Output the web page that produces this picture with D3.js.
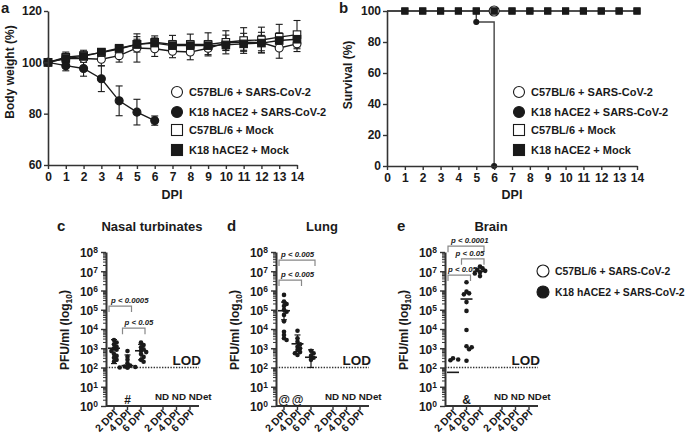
<!DOCTYPE html>
<html><head><meta charset="utf-8">
<script src="https://cdn.jsdelivr.net/npm/d3@7"></script>
<style>body{margin:0;background:#fff}</style>
</head><body><svg id="c" width="685" height="442"></svg>
<script>
// ---------------- DATA ----------------
// Panel a: body weight (%)
const dpi = [0,1,2,3,4,5,6,7,8,9,10,11,12,13,14];
const dpiK18 = [0,1,2,3,4,5,6];
const bwC57Virus   = [100,101.6,101.5,101.2,102.6,105.6,105.3,104.3,104,105.5,107.6,107.8,107.7,105.6,107.2];
const bwC57VirusSD = [0,1.5,1.5,2.5,2.5,5.5,3,2.5,3,2.5,3,3.5,4,4,3];
const bwK18Virus   = [100,98.7,97.6,93.6,85,80.6,77.3];
const bwK18VirusSD = [0,2,3,5,5.8,5,1.8];
const bwC57Mock    = [100,102,102.7,103.8,105.2,107,107.8,107,107,107,107.8,108.5,108.7,109.8,110.8];
const bwC57MockSD  = [0,2,2,1.5,1.5,3,2.5,3.5,4,4.5,4.5,5,5,5,5.5];
const bwK18Mock    = [100,101.5,102.3,104,105.5,107,107.5,106.5,106.5,106.5,106.8,107.2,107.5,108.5,109];
const bwK18MockSD  = [0,1.5,1.5,1,1,2,2,2,2,2,2,2.5,3,3,3];
const bwTicks = [60,80,100,120];

// Panel b: survival (%)
const survC57Virus = [100,100,100,100,100,100,100];
const survK18Virus = [100,100,100,100,100,92.9,0];
const survC57Mock  = [100,100,100,100,100,100,100,100,100,100,100,100,100,100,100];
const survK18Mock  = [100,100,100,100,100,100,100,100,100,100,100,100,100,100,100];
const survTicks = [0,20,40,60,80,100];

const legendNames = ["C57BL/6 + SARS-CoV-2","K18 hACE2 + SARS-CoV-2","C57BL/6 + Mock","K18 hACE2 + Mock"];

// Panels c-e: PFU/ml
const dpiCats = ["2 DPI","4 DPI","6 DPI"];
const logTicks = [1,1e1,1e2,1e3,1e4,1e5,1e6,1e7,1e8];
const LOD = 100;
const nasal2 = [2700,2000,1600,1200,1000,830,710,500,400,320,250,200];
const nasal4 = [720,360,250,165,125,112,107,100,100,100];
const nasal6 = [2000,1480,1120,890,740,630,500,355,250,200];
const nasalMean = [1000,125,740];
const nasalLo = [160,100,250];
const nasalHi = [2800,450,1600];
const lung2 = [590000,263000,200000,158000,100000,79000,54000,25000,7200,4900,3300,2700];
const lung4 = [8100,3300,2200,1600,1200,1000,810,630,550,450];
const lung6 = [740,550,400,320,250];
const lungMean = [89000,1700,340];
const lungLo = [30000,660,100];
const lungHi = [250000,4900,830];
const brain2 = [300,260,240];
const brain4 = [2.7e6,8.7e5,7.1e5,6.3e5,2.5e5,8.7e4,8.9e3,1260,1120,890,224];
const brain6 = [1.74e7,1.41e7,1.2e7,1.05e7,8.9e6,7.6e6,5.6e6];
const brainMean = [56,3.6e5,1.0e7];
const bracketsNasal = [{from:"2 DPI",to:"4 DPI",level:1.55e5,label:"p < 0.0005"},{from:"4 DPI",to:"6 DPI",level:1.1e4,label:"p < 0.05"}];
const bracketsLung  = [{from:"2 DPI",to:"6 DPI",level:3.8e7,label:"p < 0.005"},{from:"2 DPI",to:"4 DPI",level:3.5e6,label:"p < 0.005"}];
const bracketsBrain = [{from:"2 DPI",to:"6 DPI",level:2.0e8,label:"p < 0.0001"},{from:"4 DPI",to:"6 DPI",level:4.4e7,label:"p < 0.05"},{from:"2 DPI",to:"4 DPI",level:6.3e6,label:"p < 0.05"}];

// ---------------- DRAWING ----------------
const FONT = '"Liberation Sans", Arial, Helvetica, sans-serif';
const INK = "#1a1a1a", AX = "#333";
const svg = d3.select("#c");

function txt(x, y, s, size, opts = {}) {
  const t = svg.append("text").attr("x", x).attr("y", y).text(s)
    .attr("font-family", FONT).attr("font-weight", "bold").attr("font-size", size).attr("fill", INK);
  if (opts.anchor) t.attr("text-anchor", opts.anchor);
  if (opts.rotate) t.attr("transform", `rotate(${opts.rotate},${x},${y})`);
  if (opts.italic) t.attr("font-style", "italic");
  return t;
}
function styleAxis(g, fs) {
  g.attr("font-family", FONT).attr("font-size", fs).attr("font-weight", "bold");
  g.select(".domain").attr("stroke", AX).attr("stroke-width", 1.6);
  g.selectAll(".tick line").attr("stroke", AX).attr("stroke-width", 1.4);
  g.selectAll(".tick text").attr("fill", INK);
}
function marker(g, shape, fill, x, y, s) {
  if (shape === "circle") g.append("circle").attr("cx", x).attr("cy", y).attr("r", s / 2)
    .attr("fill", fill).attr("stroke", INK).attr("stroke-width", 1.1);
  else g.append("rect").attr("x", x - s / 2).attr("y", y - s / 2).attr("width", s).attr("height", s)
    .attr("fill", fill).attr("stroke", INK).attr("stroke-width", 1.1);
}
function legend(x, y0, gaps, items, size, fs) {
  const g = svg.append("g");
  let y = y0;
  items.forEach((it, i) => {
    marker(g, it.shape, it.fill, x, y, size);
    txt(x + 12, y + fs * 0.36, it.name, fs);
    y += gaps[i] || 0;
  });
}

// ---- Panel a ----
(function () {
  const x = d3.scaleLinear().domain([0, 14]).range([48, 297]);
  const y = d3.scaleLinear().domain([60, 120]).range([165, 11]);
  const series = [
    {name: legendNames[0], xs: dpi, ys: bwC57Virus, es: bwC57VirusSD, shape: "circle", fill: "#fff"},
    {name: legendNames[1], xs: dpiK18, ys: bwK18Virus, es: bwK18VirusSD, shape: "circle", fill: INK},
    {name: legendNames[2], xs: dpi, ys: bwC57Mock, es: bwC57MockSD, shape: "square", fill: "#fff"},
    {name: legendNames[3], xs: dpi, ys: bwK18Mock, es: bwK18MockSD, shape: "square", fill: INK}
  ];
  const g = svg.append("g");
  series.forEach(s => {
    s.xs.forEach((d, i) => {
      if (!s.es[i]) return;
      const cx = x(d), y1 = y(s.ys[i] + s.es[i]), y2 = y(s.ys[i] - s.es[i]);
      g.append("line").attr("x1", cx).attr("x2", cx).attr("y1", y1).attr("y2", y2).attr("stroke", INK).attr("stroke-width", 1.1);
      [y1, y2].forEach(yy => g.append("line").attr("x1", cx - 3.5).attr("x2", cx + 3.5).attr("y1", yy).attr("y2", yy).attr("stroke", INK).attr("stroke-width", 1.1));
    });
  });
  const line = d3.line().x(d => x(d[0])).y(d => y(d[1]));
  series.forEach(s => {
    g.append("path").attr("d", line(s.xs.map((d, i) => [d, s.ys[i]]))).attr("fill", "none").attr("stroke", INK).attr("stroke-width", 1.4);
  });
  series.forEach(s => s.xs.forEach((d, i) => marker(g, s.shape, s.fill, x(d), y(s.ys[i]), s.shape === "circle" ? 8 : 7.5)));
  const gx = svg.append("g").attr("transform", "translate(0,165)").call(d3.axisBottom(x).tickValues(dpi).tickSize(4).tickSizeOuter(0).tickPadding(3));
  styleAxis(gx, 12);
  const gy = svg.append("g").attr("transform", "translate(48,0)").call(d3.axisLeft(y).tickValues(bwTicks).tickSize(4).tickSizeOuter(0).tickPadding(2));
  styleAxis(gy, 12);
  txt(172, 199, "DPI", 12.5, {anchor: "middle"});
  txt(13.5, 72, "Body weight (%)", 12, {anchor: "middle", rotate: -90});
  txt(1, 13, "a", 15);
  legend(177, 92, [20, 18, 20], series, 11, 11);
})();

// ---- Panel b ----
(function () {
  const x = d3.scaleLinear().domain([0, 14]).range([387, 637]);
  const y = d3.scaleLinear().domain([0, 100]).range([166, 11]);
  const series = [
    {name: legendNames[0], xs: dpiK18, ys: survC57Virus, shape: "circle", fill: "#fff", ms: 10},
    {name: legendNames[1], xs: dpiK18, ys: survK18Virus, shape: "circle", fill: INK, ms: 5},
    {name: legendNames[2], xs: dpi, ys: survC57Mock, shape: "square", fill: "#fff", ms: 6},
    {name: legendNames[3], xs: dpi, ys: survK18Mock, shape: "square", fill: INK, ms: 6}
  ];
  const g = svg.append("g");
  const line = d3.line().curve(d3.curveStepAfter).x(d => x(d[0])).y(d => y(d[1]));
  series.forEach(s => {
    g.append("path").attr("d", line(s.xs.map((d, i) => [d, s.ys[i]]))).attr("fill", "none").attr("stroke", "#444").attr("stroke-width", 1.4);
  });
  series.forEach((s, si) => {
    s.xs.forEach((d, i) => {
      if (d === 0) return;
      if (si === 0 && d !== s.xs[s.xs.length - 1]) return; // end-point marker only
      marker(g, s.shape, s.fill, x(d), y(s.ys[i]), s.ms);
    });
  });
  const gx = svg.append("g").attr("transform", "translate(0,166)").call(d3.axisBottom(x).tickValues(dpi).tickSize(4).tickSizeOuter(0).tickPadding(3));
  styleAxis(gx, 12);
  const gy = svg.append("g").attr("transform", "translate(387,0)").call(d3.axisLeft(y).tickValues(survTicks).tickSize(4).tickSizeOuter(0).tickPadding(2));
  styleAxis(gy, 12);
  txt(512, 199, "DPI", 12.5, {anchor: "middle"});
  txt(352, 75, "Survival (%)", 12, {anchor: "middle", rotate: -90});
  txt(339, 13, "b", 15);
  legend(519, 92, [20, 18, 20], series, 11, 11);
})();

// ---- Panels c, d, e ----
function dodge(vals, ys, minD) {
  const placed = [];
  const cands = [0, 2.6, -2.6, 5.2, -5.2, 7.8, -7.8];
  return vals.map(v => {
    const yy = ys(v);
    for (const dx of cands) {
      if (placed.every(p => (p.dx - dx) ** 2 + (p.y - yy) ** 2 >= minD * minD)) { placed.push({dx, y: yy}); return {dx, y: yy}; }
    }
    placed.push({dx: 0, y: yy}); return {dx: 0, y: yy};
  });
}
function pfuPanel(cfg) {
  const ax = cfg.axisX;
  const y = d3.scaleLog().domain([1, 1e8]).range([406, 252]);
  const xg1 = d3.scalePoint().domain(dpiCats).range([ax + 8, ax + 35]);
  const xg2 = d3.scalePoint().domain(dpiCats).range([ax + 57, ax + 84]);
  const g = svg.append("g");
  // minor ticks
  for (let k = 0; k < 8; k++) for (let m = 2; m <= 9; m++) {
    const yy = y(m * Math.pow(10, k));
    g.append("line").attr("x1", ax - 3).attr("x2", ax).attr("y1", yy).attr("y2", yy).attr("stroke", AX).attr("stroke-width", 1);
  }
  const gy = svg.append("g").attr("transform", `translate(${ax},0)`).call(d3.axisLeft(y).tickValues(logTicks).tickSize(5).tickSizeOuter(0).tickPadding(3).tickFormat(() => ""));
  styleAxis(gy, 12);
  gy.selectAll(".domain").attr("stroke-width", 2);
  gy.selectAll(".tick text").each(function (d) {
    const t = d3.select(this).attr("dy", "0.4em");
    t.append("tspan").text("10");
    t.append("tspan").attr("font-size", 8.5).attr("dy", "-0.45em").text(Math.round(Math.log10(d)));
  });
  // x axis
  g.append("line").attr("x1", ax).attr("x2", ax + 93).attr("y1", 406).attr("y2", 406).attr("stroke", AX).attr("stroke-width", 2);
  [xg1, xg2].forEach(sc => dpiCats.forEach(c => {
    const xx = sc(c);
    g.append("line").attr("x1", xx).attr("x2", xx).attr("y1", 406).attr("y2", 410).attr("stroke", AX).attr("stroke-width", 1.4);
    txt(xx + 4, 414, c, 10.5, {anchor: "end", rotate: -45});
  }));
  // LOD
  g.append("line").attr("x1", ax).attr("x2", ax + 93).attr("y1", y(LOD)).attr("y2", y(LOD))
    .attr("stroke", AX).attr("stroke-width", 1.3).attr("stroke-dasharray", "1.4,1.4");
  txt(ax + 95, 365, "LOD", 13.5, {anchor: "end"});
  txt(ax + 49, 400, "ND ND NDet", 9.8);
  // data
  cfg.groups.forEach((vals, i) => {
    const cx = xg1(dpiCats[i]);
    if (cfg.lo && cfg.hi) {
      const y1 = y(cfg.hi[i]), y2 = y(cfg.lo[i]);
      g.append("line").attr("x1", cx).attr("x2", cx).attr("y1", y1).attr("y2", y2).attr("stroke", INK).attr("stroke-width", 1.2);
      [y1, y2].forEach(yy => g.append("line").attr("x1", cx - 3).attr("x2", cx + 3).attr("y1", yy).attr("y2", yy).attr("stroke", INK).attr("stroke-width", 1.2));
    }
    dodge(vals, y, 3.0).forEach(p => g.append("circle").attr("cx", cx + p.dx).attr("cy", p.y).attr("r", 2.3).attr("fill", INK));
    const my = y(cfg.mean[i]);
    g.append("line").attr("x1", cx - 6).attr("x2", cx + 6).attr("y1", my).attr("y2", my).attr("stroke", INK).attr("stroke-width", 1.6);
  });
  // brackets
  cfg.brackets.forEach((b, i) => {
    const x1 = xg1(b.from) - 5, x2 = xg1(b.to) + 4, yb = y(b.level);
    g.append("path").attr("d", `M${x1},${yb + 6}V${yb}H${x2}V${yb + 6}`).attr("fill", "none").attr("stroke", "#888").attr("stroke-width", 1.2);
    txt(x1 + (cfg.textDx ? cfg.textDx[i] : 2), yb - 3, b.label, 7.8, {italic: true});
  });
  (cfg.marks || []).forEach(m => txt(xg1(m.cat), 404, m.s, 12, {anchor: "middle"}));
  txt(ax + 46, 231, cfg.title, 13, {anchor: "middle"});
  txt(cfg.letterX, 231, cfg.letter, 15);
  const lab = txt(ax - 37, 330, "PFU/ml (log", 12, {anchor: "middle", rotate: -90});
  lab.append("tspan").attr("font-size", 8.5).attr("dy", "0.35em").text("10");
  lab.append("tspan").attr("dy", "-0.35em").text(")");
}
pfuPanel({axisX: 106, letter: "c", letterX: 57, title: "Nasal turbinates", groups: [nasal2, nasal4, nasal6],
  mean: nasalMean, lo: nasalLo, hi: nasalHi, brackets: bracketsNasal, marks: [{cat: "4 DPI", s: "#"}]});
pfuPanel({axisX: 276, letter: "d", letterX: 227, title: "Lung", groups: [lung2, lung4, lung6],
  mean: lungMean, lo: lungLo, hi: lungHi, brackets: bracketsLung, marks: [{cat: "2 DPI", s: "@"}, {cat: "4 DPI", s: "@"}]});
pfuPanel({axisX: 445, letter: "e", letterX: 397, title: "Brain", groups: [brain2, brain4, brain6],
  mean: brainMean, brackets: bracketsBrain, textDx: [3, -6, 0], marks: [{cat: "4 DPI", s: "&"}]});

// bottom-right legend
legend(543, 271, [21], [
  {name: legendNames[0], shape: "circle", fill: "#fff"},
  {name: legendNames[1], shape: "circle", fill: INK}
], 12, 10.4);
</script></body></html>
